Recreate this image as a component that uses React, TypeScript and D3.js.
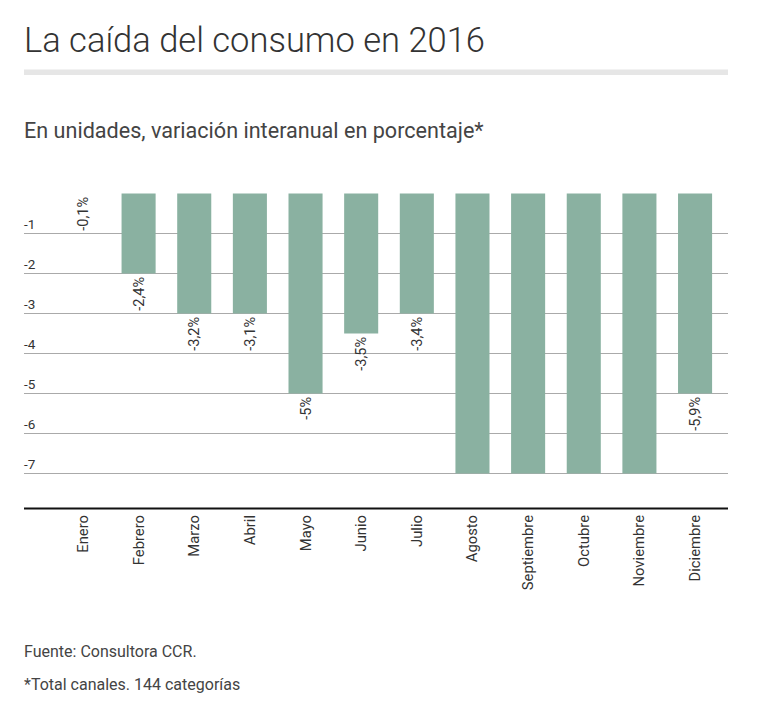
import React from 'react';
import * as d3 from 'd3';

// months shown on the x axis
const months = ['Enero', 'Febrero', 'Marzo', 'Abril', 'Mayo', 'Junio', 'Julio', 'Agosto', 'Septiembre', 'Octubre', 'Noviembre', 'Diciembre'];
// bar lengths as drawn in the original
const barValues = [0, -2, -3, -3, -5, -3.5, -3, -7, -7, -7, -7, -5];
// printed labels under each bar
const barLabels = ['-0,1%', '-2,4%', '-3,2%', '-3,1%', '-5%', '-3,5%', '-3,4%', '', '', '', '', '-5,9%'];
const yTicks = [-1, -2, -3, -4, -5, -6, -7];

const W = 767;
const H = 706;
const left = 24;
const right = 728;
const font = 'Roboto, sans-serif';

const App = () => {
  const x = d3.scaleBand<string>().domain(months).range([52, 726]).paddingInner(0.388).paddingOuter(0.25);
  const y = d3.scaleLinear().domain([0, -7]).range([193.5, 473.5]);
  const baseY = 508.5;

  return (
    <svg width={W} height={H} style={{ position: 'absolute', left: 0, top: 0, background: '#fff' }} fontFamily={font}>
      <text x={left} y={52} fontSize={34.5} fontWeight={300} fill="#333">La caída del consumo en 2016</text>
      <rect x={left} y={69.5} width={right - left} height={5.5} fill="#e6e6e6" />
      <text x={left} y={137.5} fontSize={21.6} fill="#444">En unidades, variación interanual en porcentaje*</text>

      {/* grid + tick labels */}
      {yTicks.map((t) => (
        <g key={t}>
          <line x1={left} x2={right} y1={y(t)} y2={y(t)} stroke="#aaa" strokeWidth={1} />
          <text x={left} y={y(t) - 5} fontSize={13.5} fill="#333">{t}</text>
        </g>
      ))}

      {/* bars */}
      {months.map((m, i) => (
        <rect
          key={m}
          x={x(m)}
          y={y(0)}
          width={x.bandwidth()}
          height={Math.max(0, y(barValues[i]) - y(0))}
          fill="#8ab1a1"
        />
      ))}

      {/* value labels */}
      {months.map((m, i) => {
        const cx = (x(m) as number) + x.bandwidth() / 2;
        const ty = y(barValues[i]) + 3.5;
        return barLabels[i] ? (
          <text key={m} transform={`translate(${cx + 5},${ty}) rotate(-90)`} textAnchor="end" fontSize={14.5} fill="#333">
            {barLabels[i]}
          </text>
        ) : null;
      })}

      <line x1={left} x2={right} y1={baseY} y2={baseY} stroke="#111" strokeWidth={2} />

      {/* month labels */}
      {months.map((m) => {
        const cx = (x(m) as number) + x.bandwidth() / 2;
        return (
          <text key={m} transform={`translate(${cx + 5},515) rotate(-90)`} textAnchor="end" fontSize={14.8} fill="#333">
            {m}
          </text>
        );
      })}

      <text x={left} y={657} fontSize={16} fill="#444">Fuente: Consultora CCR.</text>
      <text x={left} y={690} fontSize={16} fill="#444">*Total canales. 144 categorías</text>
    </svg>
  );
};

export default App;
